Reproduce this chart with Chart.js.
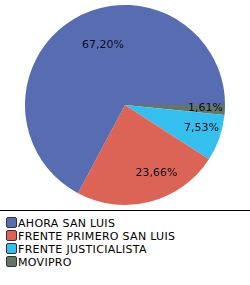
<!DOCTYPE html>
<html>
<head>
<meta charset="utf-8">
<script src="https://cdn.jsdelivr.net/npm/chart.js@4"></script>
<style>
  body { margin: 0; background: #fff; font-family: "DejaVu Sans", Verdana, sans-serif; }
  #wrap { width: 250px; height: 210px; }
  #legend { border-top: 1px solid #000; width: 250px; padding-top: 6px; }
  .item { height: 13px; line-height: 13px; font-size: 11px; letter-spacing: 0.3px; color: #000; white-space: nowrap; }
  .box { display: inline-block; width: 9px; height: 9px; border: 1px solid #333; border-radius: 2px; margin: 0 1px 0 6px; vertical-align: -1px; }
</style>
</head>
<body>
<div id="wrap"><canvas id="pie" width="250" height="210"></canvas></div>
<div id="legend"></div>
<script>
// legend order
const labels = ['AHORA SAN LUIS', 'FRENTE PRIMERO SAN LUIS', 'FRENTE JUSTICIALISTA', 'MOVIPRO'];
const values = [67.20, 23.66, 7.53, 1.61];
const colors = ['#586cb1', '#dc6456', '#35bfee', '#627769'];

// pie goes clockwise from 3 o'clock starting with the smallest one
const order = [3, 2, 1, 0];

const pctLabels = {
  id: 'pctLabels',
  afterDatasetsDraw(chart) {
    const ctx = chart.ctx;
    const meta = chart.getDatasetMeta(0);
    ctx.save();
    ctx.font = '11px "DejaVu Sans", Verdana, sans-serif';
    ctx.fillStyle = '#0a0a1e';
    ctx.textAlign = 'left';
    ctx.textBaseline = 'middle';
    meta.data.forEach((arc, i) => {
      const mid = (arc.startAngle + arc.endAngle) / 2;
      const r = arc.outerRadius * 0.70;
      const x = arc.x + Math.cos(mid) * r - 7;
      const y = arc.y + Math.sin(mid) * r;
      const v = chart.data.datasets[0].data[i];
      ctx.fillText(v.toFixed(2).replace('.', ',') + '%', x, y);
    });
    ctx.restore();
  }
};

new Chart(document.getElementById('pie'), {
  type: 'pie',
  data: {
    labels: order.map(i => labels[i]),
    datasets: [{
      data: order.map(i => values[i]),
      backgroundColor: order.map(i => colors[i]),
      borderWidth: 0
    }]
  },
  options: {
    responsive: false,
    animation: false,
    rotation: 90,
    layout: { padding: { top: 5, bottom: 5 } },
    plugins: { legend: { display: false }, tooltip: { enabled: false } }
  },
  plugins: [pctLabels]
});

const lg = document.getElementById('legend');
labels.forEach((l, i) => {
  const d = document.createElement('div');
  d.className = 'item';
  d.innerHTML = '<span class="box" style="background:' + colors[i] + '"></span>' + l;
  lg.appendChild(d);
});
</script>
</body>
</html>
